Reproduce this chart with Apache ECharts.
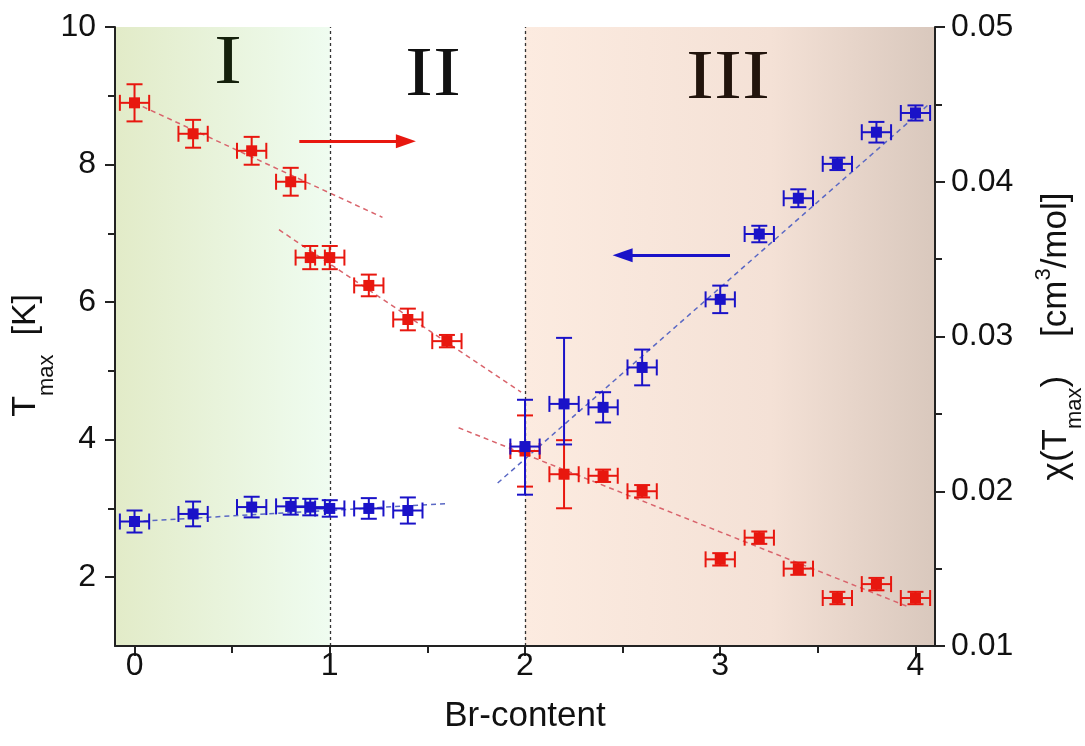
<!DOCTYPE html>
<html>
<head>
<meta charset="utf-8">
<script src="https://cdn.jsdelivr.net/npm/echarts@6/dist/echarts.min.js"></script>
<style>
  html, body { margin: 0; padding: 0; background: #fff; }
  #main { width: 1085px; height: 746px; }
</style>
</head>
<body>
<div id="main"></div>
<script>
// red points: chi(Tmax) on the right axis
var chiX = [0, 0.3, 0.6, 0.8, 0.9, 1.0, 1.2, 1.4, 1.6, 2.0, 2.2, 2.4, 2.6, 3.0, 3.2, 3.4, 3.6, 3.8, 4.0];
var chiVal = [0.0451, 0.0431, 0.0420, 0.0400, 0.0351, 0.0351, 0.0333, 0.0311, 0.0297, 0.0226, 0.0211, 0.0210, 0.0200, 0.0156, 0.0170, 0.0150, 0.0131, 0.0140, 0.0131];
var chiErr = [0.0012, 0.0009, 0.0009, 0.0009, 0.00075, 0.00075, 0.0007, 0.0007, 0.0004, 0.0023, 0.0022, 0.0004, 0.0004, 0.0004, 0.0004, 0.0004, 0.0004, 0.0004, 0.0004];

// blue points: Tmax on the left axis
var tX = [0, 0.3, 0.6, 0.8, 0.9, 1.0, 1.2, 1.4, 2.0, 2.2, 2.4, 2.6, 3.0, 3.2, 3.4, 3.6, 3.8, 4.0];
var tVal = [2.81, 2.92, 3.02, 3.03, 3.02, 3.0, 3.0, 2.97, 3.9, 4.52, 4.47, 5.05, 6.04, 6.99, 7.51, 8.01, 8.47, 8.75];
var tErrUp = [0.16, 0.18, 0.15, 0.12, 0.12, 0.12, 0.15, 0.19, 0.68, 0.96, 0.22, 0.26, 0.2, 0.12, 0.13, 0.09, 0.15, 0.11];
var tErrDn = [0.16, 0.18, 0.15, 0.12, 0.12, 0.12, 0.15, 0.19, 0.70, 0.59, 0.22, 0.26, 0.2, 0.12, 0.13, 0.09, 0.15, 0.11];
var xErr = 0.075;

// dashed guide lines [x, y]
var redFit1 = [[0, 0.0451], [1.27, 0.0377]];
var redFit2 = [[0.74, 0.0369], [1.98, 0.0264]];
var redFit3 = [[1.66, 0.0241], [3.97, 0.0125]];
var blueFit1 = [[0, 2.81], [1.6, 3.07]];
var blueFit2 = [[1.86, 3.37], [4.07, 8.88]];

// arrows (left axis units)
var redArrow = [[0.844, 8.34], [1.39, 8.34]];
var blueArrow = [[3.05, 6.68], [2.50, 6.68]];

var xTicks = [0, 1, 2, 3, 4];
var xMinor = [0.5, 1.5, 2.5, 3.5];
var tTicks = [2, 4, 6, 8, 10];
var tMinor = [3, 5, 7, 9];

var RED = '#e8170f';
var BLUE = '#1a12c8';
var FONT = '"Liberation Sans", Arial, sans-serif';
var SERIF = '70px "Liberation Serif", "Times New Roman", serif';

function errRender(color) {
  return function (params, api) {
    var x = api.value(0), y = api.value(1), ex = api.value(2), eu = api.value(3), ed = api.value(4);
    var c = api.coord([x, y]);
    var l = api.coord([x - ex, y])[0], r = api.coord([x + ex, y])[0];
    var t = api.coord([x, y + eu])[1], b = api.coord([x, y - ed])[1];
    var h = 8, m = 5.5;
    var st = { stroke: color, lineWidth: 2 };
    return {
      type: 'group',
      children: [
        { type: 'line', shape: { x1: l, y1: c[1], x2: r, y2: c[1] }, style: st },
        { type: 'line', shape: { x1: c[0], y1: t, x2: c[0], y2: b }, style: st },
        { type: 'line', shape: { x1: l, y1: c[1] - h, x2: l, y2: c[1] + h }, style: st },
        { type: 'line', shape: { x1: r, y1: c[1] - h, x2: r, y2: c[1] + h }, style: st },
        { type: 'line', shape: { x1: c[0] - h, y1: t, x2: c[0] + h, y2: t }, style: st },
        { type: 'line', shape: { x1: c[0] - h, y1: b, x2: c[0] + h, y2: b }, style: st },
        { type: 'rect', shape: { x: c[0] - m, y: c[1] - m, width: 2 * m, height: 2 * m }, style: { fill: color } }
      ]
    };
  };
}

var chiData = chiX.map(function (x, i) { return [x, chiVal[i], xErr, chiErr[i], chiErr[i]]; });
var tData = tX.map(function (x, i) { return [x, tVal[i], xErr, tErrUp[i], tErrDn[i]]; });

var chart = echarts.init(document.getElementById('main'));

function fitLine(data, yIdx, color) {
  return {
    type: 'line', yAxisIndex: yIdx, data: data, symbol: 'none', z: 3, silent: true,
    lineStyle: { color: color, width: 1.5, type: [5, 4] }
  };
}

var axisLineStyle = { color: '#222', width: 2 };
var tickStyle = { color: '#222', width: 2 };

var option = {
  animation: false,
  grid: { left: 115, right: 150, top: 27, bottom: 100, containLabel: false, outerBoundsMode: 'none' },
  xAxis: [{
    type: 'value', min: -0.1, max: 4.1, position: 'bottom', z: 10,
    axisLine: { show: true, onZero: false, lineStyle: axisLineStyle },
    axisTick: { show: true, customValues: xTicks, length: 10, lineStyle: tickStyle },
    axisLabel: { customValues: xTicks, fontSize: 32, color: '#111', fontFamily: FONT, margin: 4 },
    splitLine: { show: false },
    name: 'Br-content', nameLocation: 'middle', nameGap: 53, nameMoveOverlap: false,
    nameTextStyle: { fontSize: 35, color: '#111', fontFamily: FONT }
  }, {
    type: 'value', min: -0.1, max: 4.1, position: 'bottom', z: 10,
    axisLine: { show: false, onZero: false },
    axisTick: { show: true, customValues: xMinor, length: 7, lineStyle: tickStyle },
    axisLabel: { show: false },
    splitLine: { show: false }
  }],
  yAxis: [{
    type: 'value', min: 1, max: 10, position: 'left', z: 10,
    axisLine: { show: true, onZero: false, lineStyle: axisLineStyle },
    axisTick: { show: true, customValues: tTicks, length: 10, lineStyle: tickStyle },
    axisLabel: { customValues: tTicks, fontSize: 32, color: '#111', fontFamily: FONT, margin: 19 },
    splitLine: { show: false },
    name: '{a|T}{s|max}{a|  [K]    }', nameLocation: 'middle', nameGap: 57, nameRotate: 90, nameMoveOverlap: false,
    nameTextStyle: {
      color: '#111', fontFamily: FONT,
      rich: {
        a: { fontSize: 34, fontFamily: FONT, color: '#111', lineHeight: 64, verticalAlign: 'middle' },
        s: { fontSize: 22, fontFamily: FONT, color: '#111', verticalAlign: 'bottom' }
      }
    }
  }, {
    type: 'value', min: 0.01, max: 0.05, interval: 0.01, position: 'right', z: 10,
    axisLine: { show: true, onZero: false, lineStyle: axisLineStyle },
    axisTick: { show: true, length: 10, lineStyle: tickStyle },
    minorTick: { show: true, splitNumber: 2, length: 7, lineStyle: tickStyle },
    axisLabel: { fontSize: 32, color: '#111', fontFamily: FONT, margin: 16, formatter: function (v) { return v.toFixed(2); } },
    splitLine: { show: false },
    name: '{a|χ(T}{s|max}{a|)    [cm}{p|3}{a|/mol]}', nameLocation: 'middle', nameGap: 91, nameRotate: 90, nameMoveOverlap: false,
    nameTextStyle: {
      color: '#111', fontFamily: FONT,
      rich: {
        a: { fontSize: 35, fontFamily: FONT, color: '#111', lineHeight: 60, verticalAlign: 'middle' },
        s: { fontSize: 22, fontFamily: FONT, color: '#111', verticalAlign: 'bottom' },
        p: { fontSize: 22, fontFamily: FONT, color: '#111', verticalAlign: 'top', padding: [7, 0, 0, 0] }
      }
    }
  }, {
    type: 'value', min: 1, max: 10, position: 'left', z: 10,
    axisLine: { show: false, onZero: false },
    axisTick: { show: true, customValues: tMinor, length: 7, lineStyle: tickStyle },
    axisLabel: { show: false },
    splitLine: { show: false }
  }],
  graphic: [
    { type: 'text', x: 228, y: 65, scaleX: 1.2, z: 10, style: { text: 'I', font: SERIF, fill: '#15200c', align: 'center', verticalAlign: 'middle' } },
    { type: 'text', x: 433, y: 77, scaleX: 1.2, z: 10, style: { text: 'II', font: SERIF, fill: '#111', align: 'center', verticalAlign: 'middle' } },
    { type: 'text', x: 728, y: 80, scaleX: 1.2, z: 10, style: { text: 'III', font: SERIF, fill: '#22140c', align: 'center', verticalAlign: 'middle' } }
  ],
  series: [{
    // background regions and borders
    type: 'line', yAxisIndex: 0, data: [], z: 1, silent: true,
    markArea: {
      silent: true,
      label: { show: false },
      data: [
        [{ xAxis: -0.1, itemStyle: { color: new echarts.graphic.LinearGradient(0, 0, 1, 0, [{ offset: 0, color: '#e2ebc8' }, { offset: 1, color: '#effcf0' }]) } }, { xAxis: 1 }],
        [{ xAxis: 2, itemStyle: { color: new echarts.graphic.LinearGradient(0, 0, 1, 0, [{ offset: 0, color: '#fcebe0' }, { offset: 0.6, color: '#f4e1d6' }, { offset: 1, color: '#d9c8bd' }]) } }, { xAxis: 4.1 }]
      ]
    },
    markLine: {
      silent: true, symbol: 'none', label: { show: false },
      lineStyle: { color: '#333', width: 1.3, type: [3, 3] },
      data: [{ xAxis: 1 }, { xAxis: 2 }]
    }
  },
  fitLine(redFit1, 1, '#d9646c'),
  fitLine(redFit2, 1, '#d9646c'),
  fitLine(redFit3, 1, '#d9646c'),
  fitLine(blueFit1, 0, '#5a68c4'),
  fitLine(blueFit2, 0, '#5a68c4'),
  {
    type: 'custom', yAxisIndex: 1, data: chiData, z: 5, silent: true,
    encode: { x: 0, y: 1 },
    renderItem: errRender(RED)
  }, {
    type: 'custom', yAxisIndex: 0, data: tData, z: 6, silent: true,
    encode: { x: 0, y: 1 },
    renderItem: errRender(BLUE)
  }, {
    // arrows
    type: 'line', yAxisIndex: 0, data: [], z: 7, silent: true,
    markLine: {
      silent: true, label: { show: false },
      symbol: ['none', 'triangle'], symbolSize: [14, 20],
      data: [
        [{ coord: redArrow[0], lineStyle: { color: RED, width: 3, type: 'solid' }, itemStyle: { color: RED } }, { coord: redArrow[1] }],
        [{ coord: blueArrow[0], lineStyle: { color: BLUE, width: 3, type: 'solid' }, itemStyle: { color: BLUE } }, { coord: blueArrow[1] }]
      ]
    }
  }]
};

chart.setOption(option);
</script>
</body>
</html>
